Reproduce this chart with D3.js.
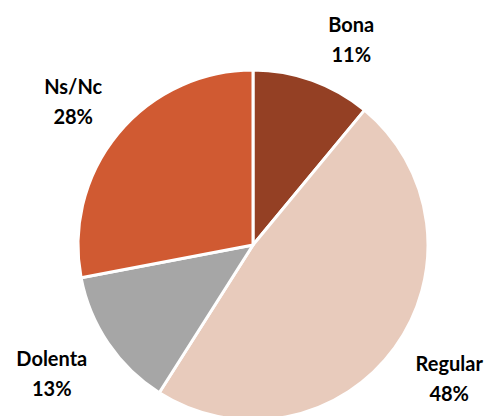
<!DOCTYPE html>
<html>
<head>
<meta charset="utf-8">
<script src="https://cdn.jsdelivr.net/npm/d3@7"></script>
<style>
  body { margin: 0; background: #fff; }
  .lbl { font-family: Lato, "Open Sans", sans-serif; font-weight: bold; font-size: 20px; fill: #000; }
</style>
</head>
<body>
<div id="chart"></div>
<script>
// data
let categories = ["Bona", "Regular", "Dolenta", "Ns/Nc"];
let values = [11, 48, 13, 28];
let colors = ["#944024", "#e8cbbc", "#a6a6a6", "#d05a32"];

let width = 493, height = 416;
let cx = 253, cy = 245, radius = 175;

let svg = d3.select("#chart")
  .append("svg")
  .attr("width", width)
  .attr("height", height);

let g = svg.append("g").attr("transform", "translate(" + cx + "," + cy + ")");

let pie = d3.pie().sort(null).value((d) => d.value);
let arc = d3.arc().innerRadius(0).outerRadius(radius);

let data = categories.map((c, i) => ({ name: c, value: values[i], color: colors[i] }));
let arcs = pie(data);

// slices
g.selectAll("path.slice")
  .data(arcs)
  .enter()
  .append("path")
  .attr("class", "slice")
  .attr("d", arc)
  .attr("fill", (d) => d.data.color)
  .attr("stroke", "#fff")
  .attr("stroke-width", 3)
  .attr("stroke-linejoin", "round");

// labels, placed outside end like excel does
let labels = g.selectAll("text.lbl")
  .data(arcs)
  .enter()
  .append("text")
  .attr("class", "lbl")
  .attr("text-anchor", "middle");

labels.append("tspan").attr("class", "l1").text((d) => d.data.name);
labels.append("tspan").attr("class", "l2").text((d) => d.data.value + "%");

labels.each(function (d) {
  let t = d3.select(this);
  let w = Math.max(
    t.select(".l1").node().getComputedTextLength(),
    t.select(".l2").node().getComputedTextLength()
  );
  let h = 60;
  let a = (d.startAngle + d.endAngle) / 2;
  let ex = Math.sin(a) * radius;
  let ey = -Math.cos(a) * radius;
  // lower labels sit a bit further out than the upper ones
  let upper = Math.cos(a) > 0;
  let gapX = upper ? 16 : 21;
  let offY = upper ? (h / 2) * Math.cos(a) + 7 : h / 2 + 6;
  let lx = ex + Math.sign(Math.sin(a)) * (w / 2 + gapX);
  let ly = ey - Math.sign(Math.cos(a)) * offY;
  t.select(".l1").attr("x", lx).attr("y", ly - 13);
  t.select(".l2").attr("x", lx).attr("y", ly + 17);
});
</script>
</body>
</html>
